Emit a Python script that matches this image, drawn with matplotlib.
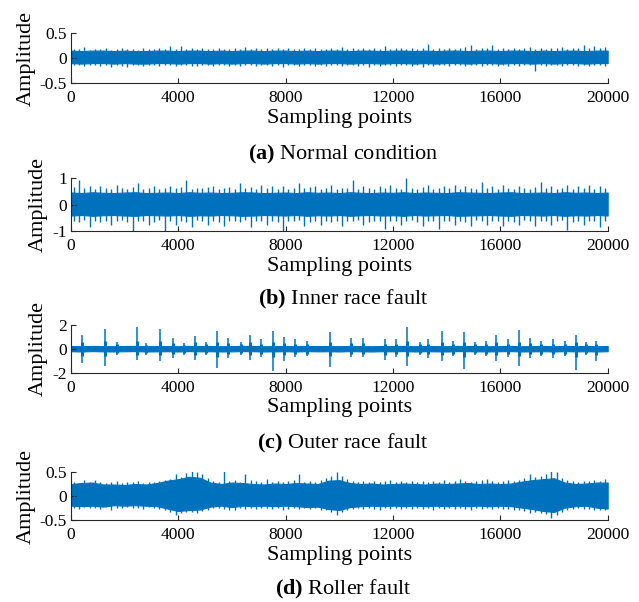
# 四种轴承状态的振动信号波形
import numpy as np
import matplotlib.pyplot as plt

plt.rcParams['font.family'] = ['Liberation Serif', 'DejaVu Serif']
plt.rcParams['mathtext.fontset'] = 'custom'
plt.rcParams['mathtext.rm'] = 'Liberation Serif'
plt.rcParams['mathtext.bf'] = 'Liberation Serif:bold'
plt.rcParams['axes.unicode_minus'] = False

# core band positions (every 400 points) and peak positions (every 200 points)
env_x = list(range(0, 20001, 400))
peak_x = list(range(100, 20000, 200))

# (a) normal condition
a_core_hi = [0.15, 0.14, 0.15, 0.15, 0.14, 0.15, 0.14, 0.14, 0.15, 0.15,
             0.14, 0.15, 0.15, 0.14, 0.15, 0.14, 0.15, 0.15, 0.14, 0.15,
             0.15, 0.14, 0.15, 0.14, 0.15, 0.15, 0.14, 0.15, 0.15, 0.14,
             0.15, 0.15, 0.14, 0.15, 0.14, 0.15, 0.15, 0.14, 0.15, 0.15,
             0.14, 0.15, 0.15, 0.14, 0.15, 0.14, 0.15, 0.15, 0.14, 0.15, 0.15]
a_core_lo = [-0.10, -0.11, -0.10, -0.10, -0.11, -0.10, -0.11, -0.11, -0.10, -0.10,
             -0.11, -0.10, -0.10, -0.11, -0.10, -0.11, -0.10, -0.10, -0.11, -0.10,
             -0.10, -0.11, -0.10, -0.11, -0.10, -0.10, -0.11, -0.10, -0.10, -0.11,
             -0.10, -0.10, -0.11, -0.10, -0.11, -0.10, -0.10, -0.11, -0.10, -0.10,
             -0.11, -0.10, -0.10, -0.11, -0.10, -0.11, -0.10, -0.10, -0.11, -0.10, -0.10]
a_peak_hi = [0.19, 0.18, 0.22, 0.17, 0.19, 0.18, 0.20, 0.17, 0.19, 0.20,
             0.18, 0.19, 0.17, 0.20, 0.18, 0.19, 0.21, 0.18, 0.24, 0.19,
             0.24, 0.18, 0.20, 0.19, 0.21, 0.18, 0.19, 0.20, 0.18, 0.19,
             0.20, 0.19, 0.22, 0.18, 0.20, 0.19, 0.21, 0.18, 0.20, 0.19,
             0.20, 0.18, 0.19, 0.21, 0.18, 0.20, 0.19, 0.18, 0.21, 0.19,
             0.22, 0.19, 0.20, 0.18, 0.21, 0.19, 0.20, 0.18, 0.24, 0.19,
             0.20, 0.21, 0.18, 0.20, 0.19, 0.21, 0.29, 0.19, 0.20, 0.18,
             0.21, 0.19, 0.20, 0.22, 0.27, 0.19, 0.21, 0.20, 0.27, 0.19,
             0.20, 0.18, 0.21, 0.19, 0.20, 0.22, 0.18, 0.20, 0.19, 0.21,
             0.20, 0.22, 0.19, 0.21, 0.20, 0.27, 0.21, 0.24, 0.20, 0.22]
a_peak_lo = [-0.14, -0.13, -0.15, -0.14, -0.13, -0.15, -0.14, -0.17, -0.13, -0.15,
             -0.17, -0.14, -0.13, -0.15, -0.14, -0.13, -0.15, -0.14, -0.13, -0.15,
             -0.14, -0.13, -0.15, -0.16, -0.14, -0.13, -0.15, -0.14, -0.13, -0.15,
             -0.14, -0.15, -0.13, -0.14, -0.15, -0.13, -0.14, -0.15, -0.13, -0.17,
             -0.14, -0.13, -0.15, -0.14, -0.13, -0.15, -0.14, -0.16, -0.13, -0.14,
             -0.15, -0.13, -0.14, -0.15, -0.13, -0.17, -0.14, -0.15, -0.13, -0.14,
             -0.15, -0.14, -0.13, -0.15, -0.14, -0.17, -0.13, -0.15, -0.14, -0.13,
             -0.15, -0.14, -0.13, -0.15, -0.14, -0.13, -0.15, -0.14, -0.13, -0.15,
             -0.14, -0.16, -0.13, -0.15, -0.14, -0.13, -0.25, -0.14, -0.15, -0.13,
             -0.14, -0.15, -0.13, -0.14, -0.16, -0.13, -0.15, -0.14, -0.13, -0.15]

# (b) inner race fault
b_core_hi = [0.46, 0.44, 0.47, 0.45, 0.44, 0.46, 0.47, 0.44, 0.45, 0.46,
             0.44, 0.47, 0.45, 0.46, 0.44, 0.45, 0.47, 0.46, 0.44, 0.45,
             0.46, 0.44, 0.47, 0.45, 0.46, 0.44, 0.47, 0.45, 0.44, 0.46,
             0.45, 0.47, 0.44, 0.46, 0.45, 0.44, 0.47, 0.46, 0.45, 0.44,
             0.46, 0.47, 0.44, 0.45, 0.46, 0.44, 0.47, 0.45, 0.46, 0.44, 0.46]
b_core_lo = [-0.41, -0.39, -0.42, -0.40, -0.39, -0.41, -0.42, -0.39, -0.40, -0.41,
             -0.39, -0.42, -0.40, -0.41, -0.39, -0.40, -0.42, -0.41, -0.39, -0.40,
             -0.41, -0.39, -0.42, -0.40, -0.41, -0.39, -0.42, -0.40, -0.39, -0.41,
             -0.40, -0.42, -0.39, -0.41, -0.40, -0.39, -0.42, -0.41, -0.40, -0.39,
             -0.41, -0.42, -0.39, -0.40, -0.41, -0.39, -0.42, -0.40, -0.41, -0.39, -0.41]
b_peak_hi = [0.65, 0.94, 0.62, 0.70, 0.60, 0.72, 0.63, 0.60, 0.75, 0.62,
             0.60, 0.66, 0.80, 0.61, 0.64, 0.72, 0.60, 0.63, 0.70, 0.62,
             0.65, 0.93, 0.60, 0.64, 0.62, 0.66, 0.72, 0.60, 0.63, 0.68,
             0.61, 0.80, 0.62, 0.65, 0.60, 0.75, 0.63, 0.70, 0.61, 0.72,
             0.60, 0.64, 0.80, 0.62, 0.65, 0.72, 0.60, 0.63, 0.75, 0.61,
             0.64, 0.62, 0.94, 0.60, 0.72, 0.63, 0.61, 0.70, 0.64, 0.75,
             0.62, 0.60, 1.00, 0.63, 0.61, 0.66, 0.75, 0.60, 0.64, 0.70,
             0.62, 0.75, 0.60, 0.72, 0.63, 0.61, 0.85, 0.62, 0.72, 0.60,
             0.75, 0.63, 0.61, 0.72, 0.64, 0.60, 0.66, 0.85, 0.62, 0.72,
             0.60, 0.64, 0.75, 0.61, 0.70, 0.63, 0.75, 0.60, 0.72, 0.62]
b_peak_lo = [-0.60, -0.65, -0.58, -0.85, -0.62, -0.66, -0.60, -0.75, -0.63, -0.58,
             -0.64, -1.00, -0.60, -0.62, -0.78, -0.65, -0.58, -1.00, -0.62, -0.75,
             -0.60, -0.64, -0.85, -0.58, -0.63, -0.78, -0.61, -0.66, -0.80, -0.60,
             -0.62, -0.65, -0.58, -0.85, -0.63, -0.60, -0.75, -0.62, -0.64, -1.00,
             -0.60, -0.63, -0.58, -0.80, -0.65, -0.61, -0.78, -0.60, -0.64, -0.62,
             -0.80, -0.60, -0.63, -0.58, -0.75, -0.64, -0.61, -0.60, -0.92, -0.63,
             -0.60, -0.78, -0.62, -0.58, -0.64, -0.80, -0.61, -0.63, -0.92, -0.60,
             -0.62, -0.78, -0.60, -0.64, -0.80, -0.58, -0.63, -0.75, -0.61, -0.62,
             -0.80, -0.60, -0.64, -0.78, -0.58, -0.62, -0.80, -0.63, -0.60, -0.75,
             -0.62, -0.58, -0.95, -0.64, -0.60, -0.78, -0.62, -0.63, -0.85, -0.60]

# (c) outer race fault
c_core_hi = [0.24, 0.22, 0.25, 0.23, 0.22, 0.24, 0.25, 0.22, 0.23, 0.24,
             0.22, 0.25, 0.23, 0.24, 0.22, 0.23, 0.25, 0.24, 0.22, 0.23,
             0.24, 0.22, 0.25, 0.23, 0.24, 0.22, 0.25, 0.23, 0.22, 0.24,
             0.23, 0.25, 0.22, 0.24, 0.23, 0.22, 0.25, 0.24, 0.23, 0.22,
             0.24, 0.25, 0.22, 0.23, 0.24, 0.22, 0.25, 0.23, 0.24, 0.22, 0.24]
c_core_lo = [-0.20, -0.22, -0.19, -0.21, -0.22, -0.20, -0.19, -0.22, -0.21, -0.20,
             -0.22, -0.19, -0.21, -0.20, -0.22, -0.21, -0.19, -0.20, -0.22, -0.21,
             -0.20, -0.22, -0.19, -0.21, -0.20, -0.22, -0.19, -0.21, -0.22, -0.20,
             -0.21, -0.19, -0.22, -0.20, -0.21, -0.22, -0.19, -0.20, -0.21, -0.22,
             -0.20, -0.19, -0.22, -0.21, -0.20, -0.22, -0.19, -0.21, -0.20, -0.22, -0.20]
c_imp_x = [400, 1270, 1700, 2480, 2800, 3310, 3810, 4220, 4620, 5030, 5450, 5850,
           6320, 6690, 7100, 7530, 7930, 8340, 8780, 9650, 10450, 10880, 11700,
           12130, 12520, 13000, 13300, 13840, 14230, 14640, 15050, 15480, 15850,
           16280, 16690, 17100, 17530, 17960, 18400, 18810, 19210, 19580]
c_imp_hi = [1.15, 1.65, 0.60, 1.85, 0.50, 1.65, 0.90, 0.50, 1.10, 0.60, 1.50, 0.90,
            0.60, 1.15, 0.80, 1.50, 1.00, 0.80, 0.70, 1.40, 0.90, 0.90, 0.85,
            0.80, 1.85, 0.60, 0.80, 1.50, 0.70, 1.40, 0.60, 0.70, 1.20,
            0.80, 1.55, 0.90, 0.70, 0.80, 0.70, 1.20, 0.60, 0.70]
c_imp_lo = [-1.15, -1.40, -0.50, -0.90, -0.50, -1.00, -0.80, -0.50, -0.90, -0.55, -1.60, -0.80,
            -0.55, -0.90, -0.70, -1.90, -1.00, -0.70, -0.60, -1.50, -0.70, -0.70, -0.90,
            -0.70, -1.40, -0.55, -0.80, -1.00, -0.60, -1.70, -0.50, -0.60, -1.00,
            -0.70, -1.40, -0.80, -0.60, -0.80, -0.60, -1.80, -0.50, -1.00]
c_burst_hi = [0.60, 0.65, 0.40, 0.65, 0.35, 0.65, 0.50, 0.35, 0.55, 0.40, 0.60, 0.50,
              0.40, 0.60, 0.45, 0.60, 0.50, 0.45, 0.40, 0.60, 0.50, 0.50, 0.45,
              0.45, 0.70, 0.40, 0.45, 0.60, 0.40, 0.60, 0.40, 0.40, 0.55,
              0.45, 0.60, 0.50, 0.40, 0.45, 0.40, 0.55, 0.40, 0.40]
c_burst_lo = [-0.60, -0.60, -0.35, -0.50, -0.35, -0.55, -0.45, -0.35, -0.50, -0.35, -0.65, -0.45,
              -0.35, -0.50, -0.40, -0.70, -0.50, -0.40, -0.40, -0.60, -0.40, -0.40, -0.50,
              -0.40, -0.60, -0.35, -0.45, -0.55, -0.40, -0.65, -0.35, -0.40, -0.50,
              -0.40, -0.60, -0.45, -0.40, -0.45, -0.40, -0.65, -0.35, -0.50]

# (d) roller fault
d_core_hi = [0.25, 0.27, 0.28, 0.24, 0.24, 0.23, 0.25, 0.24, 0.27, 0.32,
             0.35, 0.40, 0.38, 0.28, 0.25, 0.28, 0.27, 0.25, 0.24, 0.26,
             0.25, 0.27, 0.26, 0.25, 0.32, 0.33, 0.27, 0.25, 0.26, 0.24,
             0.25, 0.26, 0.25, 0.24, 0.26, 0.25, 0.26, 0.27, 0.25, 0.26,
             0.25, 0.26, 0.30, 0.33, 0.35, 0.37, 0.28, 0.25, 0.26, 0.28, 0.28]
d_core_lo = [-0.20, -0.21, -0.20, -0.22, -0.19, -0.20, -0.19, -0.20, -0.21, -0.26,
             -0.31, -0.29, -0.28, -0.22, -0.20, -0.23, -0.20, -0.21, -0.20, -0.21,
             -0.20, -0.21, -0.23, -0.22, -0.27, -0.29, -0.23, -0.21, -0.20, -0.21,
             -0.20, -0.21, -0.20, -0.21, -0.20, -0.21, -0.20, -0.21, -0.20, -0.21,
             -0.20, -0.21, -0.24, -0.27, -0.31, -0.33, -0.24, -0.21, -0.20, -0.24, -0.26]
d_peak_hi = [0.30, 0.28, 0.33, 0.29, 0.33, 0.30, 0.27, 0.29, 0.31, 0.28,
             0.29, 0.30, 0.32, 0.28, 0.30, 0.29, 0.31, 0.33, 0.36, 0.45,
             0.40, 0.48, 0.54, 0.50, 0.46, 0.38, 0.32, 0.30, 0.54, 0.31,
             0.33, 0.30, 0.45, 0.34, 0.31, 0.29, 0.35, 0.30, 0.32, 0.29,
             0.31, 0.33, 0.45, 0.30, 0.32, 0.29, 0.34, 0.38, 0.42, 0.50,
             0.42, 0.36, 0.32, 0.30, 0.31, 0.29, 0.32, 0.30, 0.31, 0.33,
             0.30, 0.32, 0.29, 0.31, 0.30, 0.32, 0.29, 0.31, 0.30, 0.33,
             0.30, 0.32, 0.36, 0.31, 0.30, 0.32, 0.33, 0.35, 0.31, 0.30,
             0.32, 0.33, 0.31, 0.34, 0.38, 0.45, 0.40, 0.42, 0.46, 0.52,
             0.50, 0.38, 0.33, 0.31, 0.30, 0.32, 0.31, 0.33, 0.32, 0.35]
d_peak_lo = [-0.24, -0.26, -0.23, -0.25, -0.24, -0.26, -0.23, -0.28, -0.24, -0.25,
             -0.23, -0.25, -0.24, -0.26, -0.23, -0.25, -0.27, -0.30, -0.33, -0.39,
             -0.36, -0.33, -0.34, -0.35, -0.32, -0.28, -0.25, -0.24, -0.27, -0.30,
             -0.28, -0.25, -0.27, -0.24, -0.26, -0.25, -0.24, -0.26, -0.25, -0.28,
             -0.26, -0.24, -0.27, -0.25, -0.26, -0.24, -0.28, -0.30, -0.33, -0.39,
             -0.34, -0.30, -0.27, -0.25, -0.26, -0.24, -0.27, -0.30, -0.25, -0.26,
             -0.24, -0.26, -0.25, -0.27, -0.24, -0.26, -0.25, -0.28, -0.24, -0.26,
             -0.25, -0.27, -0.24, -0.26, -0.28, -0.25, -0.26, -0.24, -0.27, -0.25,
             -0.26, -0.27, -0.28, -0.30, -0.32, -0.35, -0.33, -0.36, -0.38, -0.45,
             -0.40, -0.33, -0.28, -0.26, -0.25, -0.27, -0.26, -0.28, -0.29, -0.30]

color = '#0072BD'
x_ticks = [0, 4000, 8000, 12000, 16000, 20000]

fig = plt.figure(figsize=(6.39, 6.02), dpi=100)

# axes boxes [left, bottom, width, height]
boxes = [[0.111, 0.862, 0.840, 0.083],
         [0.111, 0.616, 0.840, 0.088],
         [0.111, 0.381, 0.840, 0.079],
         [0.111, 0.136, 0.840, 0.080]]
ylims = [0.5, 1, 2, 0.5]
yticks = [[-0.5, 0, 0.5], [-1, 0, 1], [-2, 0, 2], [-0.5, 0, 0.5]]
ylabels = [['-0.5', '0', '0.5'], ['-1', '0', '1'], ['-2', '0', '2'], ['-0.5', '0', '0.5']]
captions = [r'$\mathbf{(a)}$ Normal condition', r'$\mathbf{(b)}$ Inner race fault',
            r'$\mathbf{(c)}$ Outer race fault', r'$\mathbf{(d)}$ Roller fault']
cap_y = [0.743, 0.502, 0.264, 0.020]

axes = [fig.add_axes(b) for b in boxes]

axes[0].fill_between(env_x, a_core_lo, a_core_hi, color=color, lw=0.8)
axes[0].vlines(peak_x, a_peak_lo, a_peak_hi, color=color, lw=1)
axes[1].fill_between(env_x, b_core_lo, b_core_hi, color=color, lw=0.8)
axes[1].vlines(peak_x, b_peak_lo, b_peak_hi, color=color, lw=1)
axes[2].fill_between(env_x, c_core_lo, c_core_hi, color=color, lw=0.8)
axes[2].vlines(c_imp_x, c_burst_lo, c_burst_hi, color=color, lw=2.2)
axes[2].vlines(c_imp_x, c_imp_lo, c_imp_hi, color=color, lw=1.1)
axes[3].fill_between(env_x, d_core_lo, d_core_hi, color=color, lw=0.8)
axes[3].vlines(peak_x, d_peak_lo, d_peak_hi, color=color, lw=1)

for i, ax in enumerate(axes):
    ax.set_xlim(0, 20000)
    ax.set_ylim(-ylims[i], ylims[i])
    ax.set_xticks(x_ticks)
    ax.set_xticklabels([str(t) for t in x_ticks])
    ax.set_yticks(yticks[i])
    ax.set_yticklabels(ylabels[i])
    ax.spines['top'].set_visible(False)
    ax.spines['right'].set_visible(False)
    for s in ['left', 'bottom']:
        ax.spines[s].set_color('#262626')
        ax.spines[s].set_linewidth(0.8)
    ax.tick_params(direction='in', length=3.5, width=0.8, color='#262626',
                   labelsize=12.5, labelcolor='black')
    ax.tick_params(axis='x', pad=5)
    ax.tick_params(axis='y', pad=3)
    ax.set_xlabel('Sampling points', fontsize=16, labelpad=2)
    ax.set_ylabel('Amplitude', fontsize=16, labelpad=3)
    fig.text(0.111 + 0.840 / 2 + 0.006, cap_y[i], captions[i], fontsize=16,
             ha='center', va='center')

plt.savefig('out.png', dpi=100)
